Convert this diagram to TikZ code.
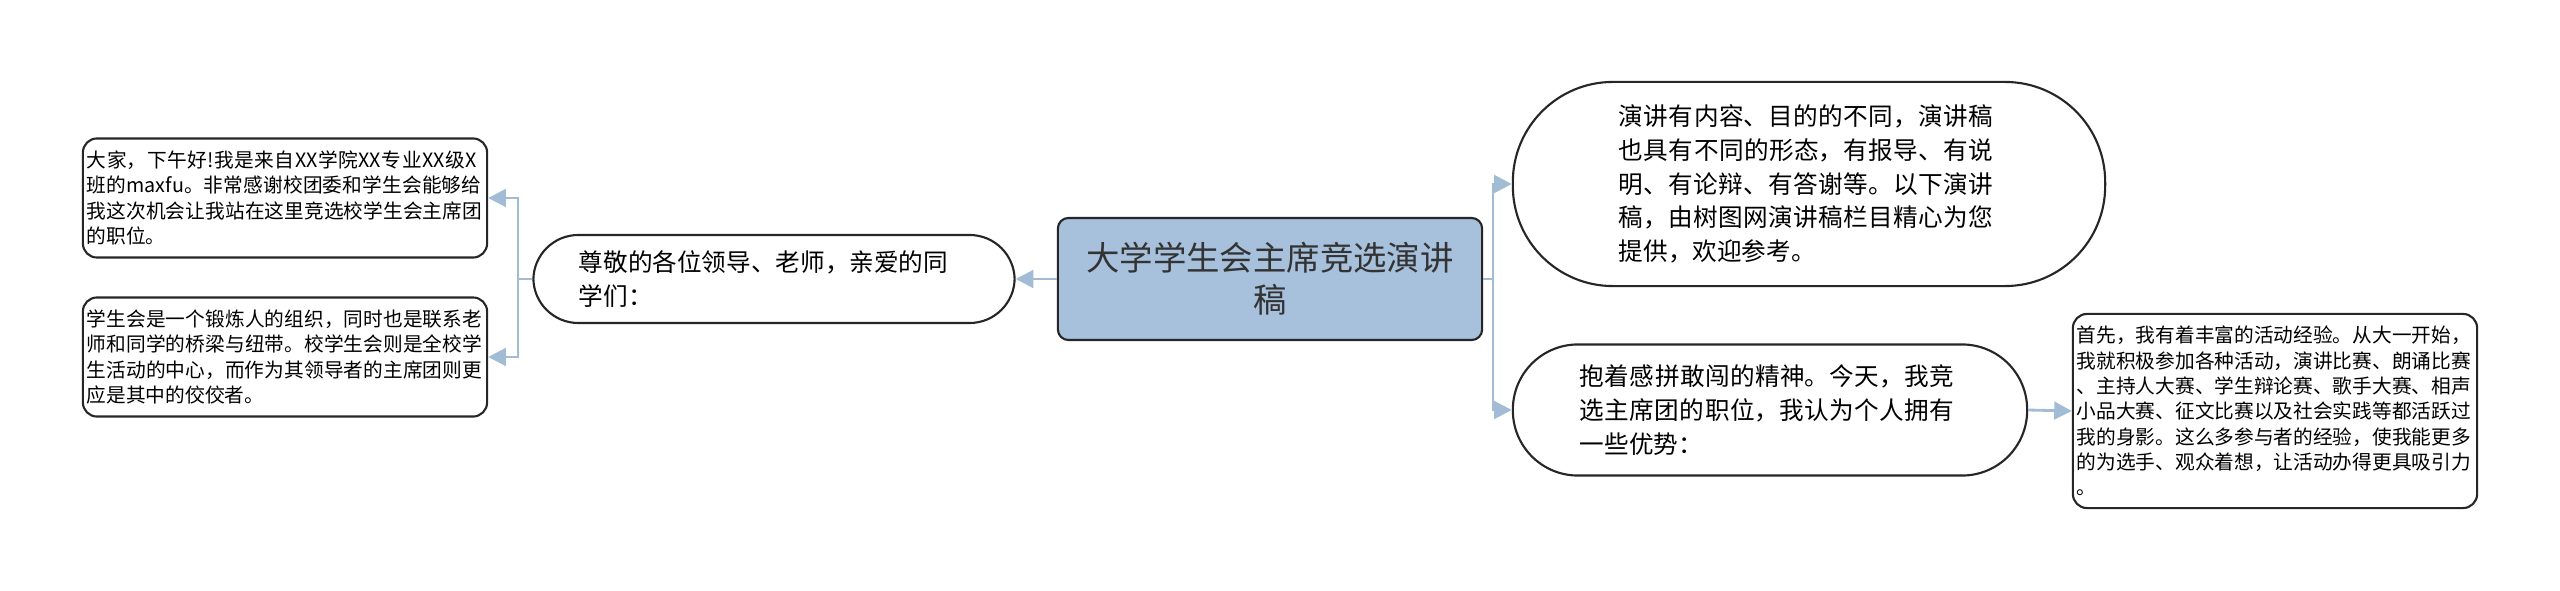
\documentclass[tikz,border=0pt]{standalone}
\usepackage{fontspec}
\setmainfont{Noto Sans CJK SC}
\XeTeXlinebreaklocale "zh"
\XeTeXlinebreakskip=0pt plus 1pt
\usetikzlibrary{arrows.meta,positioning}
\definecolor{linkblue}{HTML}{A3BCD6}
\definecolor{rootfill}{HTML}{A7C0DC}
\begin{document}
\begin{tikzpicture}[x=0.01cm,y=-0.01cm,>={Triangle[length=5pt,width=5pt]},
                    semithick]
\tikzstyle{leaf}=[draw=black!85,rounded corners=4pt,fill=white,align=left,
  text width=3.96cm,inner xsep=0.04cm,inner ysep=0.1cm,font=\fontsize{5.6pt}{7.2pt}\selectfont]
\tikzstyle{pill}=[draw=black!85,rounded corners=0.45cm,fill=white,align=left,
  font=\fontsize{7pt}{9.6pt}\selectfont,inner sep=0pt]
\tikzstyle{link}=[draw=linkblue,thick]

  \useasboundingbox (0,0) rectangle (2560,591);

  \node[draw=black!85,fill=rootfill,rounded corners=3pt,minimum width=4.24cm,minimum height=1.22cm,
        align=center,font=\fontsize{9.5pt}{12pt}\selectfont,text=black!80] (root) at (1270,279)
        {大学学生会主席竞选演讲\\稿};

  \node[pill,minimum width=4.81cm,minimum height=0.88cm,text width=3.9cm] (greet) at (774,279)
        {尊敬的各位领导、老师，亲爱的同\\学们：};
  \node[leaf,minimum height=1.19cm] (intro) at (285,198)
        {大家，下午好!我是来自XX学院XX专业XX级X班的maxfu。非常感谢校团委和学生会能够给我这次机会让我站在这里竞选校学生会主席团的职位。};
  \node[leaf,minimum height=1.19cm] (union) at (285,357)
        {学生会是一个锻炼人的组织，同时也是联系老师和同学的桥梁与纽带。校学生会则是全校学生活动的中心，而作为其领导者的主席团则更应是其中的佼佼者。};

  \node[pill,rounded corners=1cm,minimum width=5.92cm,minimum height=2.04cm,text width=3.8cm] (speech) at (1809,184)
        {演讲有内容、目的的不同，演讲稿也具有不同的形态，有报导、有说明、有论辩、有答谢等。以下演讲稿，由树图网演讲稿栏目精心为您提供，欢迎参考。};
  \node[pill,rounded corners=0.65cm,minimum width=5.14cm,minimum height=1.31cm,text width=3.8cm] (merit) at (1770,410)
        {抱着感拼敢闯的精神。今天，我竞选主席团的职位，我认为个人拥有一些优势：};
  \node[leaf,minimum height=1.94cm] (exp) at (2275,411)
        {首先，我有着丰富的活动经验。从大一开始，\\我就积极参加各种活动，演讲比赛、朗诵比赛\\、主持人大赛、学生辩论赛、歌手大赛、相声\\小品大赛、征文比赛以及社会实践等都活跃过\\我的身影。这么多参与者的经验，使我能更多\\的为选手、观众着想，让活动办得更具吸引力\\。};

  \coordinate (lj) at (518,279);
  \coordinate (rj) at (1493,279);

  \draw[link,->] (root.west) -- (greet.east);
  \draw[link,->] (greet.west) -- (lj) |- (intro.east);
  \draw[link,->] (lj) |- (union.east);
  \draw[link,->] (root.east) -- (rj) |- (speech.west);
  \draw[link,->] (rj) |- (merit.west);
  \draw[link,->] (merit.east) -- (exp.west);
\end{tikzpicture}
\end{document}
